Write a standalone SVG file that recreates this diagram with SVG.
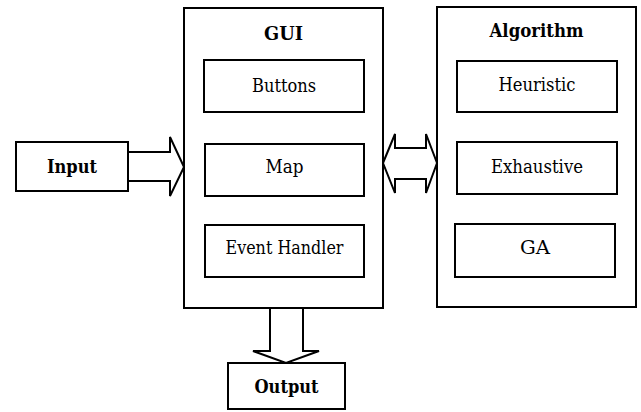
<svg xmlns="http://www.w3.org/2000/svg" width="641" height="412" viewBox="0 0 641 412">
<style>
rect{fill:#fff;stroke:#000;stroke-width:2}
.a{fill:#fff;stroke:#000;stroke-width:2;stroke-linejoin:miter}
text{font-family:'DejaVu Serif','Liberation Serif',serif;font-size:18.5px;text-anchor:middle;fill:#000}
.b{font-weight:bold}
</style>
<rect x="0" y="0" width="641" height="412" style="stroke:none"/>
<g id="gui">
<rect x="184" y="8" width="199" height="300"/>
<text class="b" x="283.5" y="40" textLength="39" lengthAdjust="spacingAndGlyphs">GUI</text>
</g>
<g id="buttons"><rect x="204" y="60" width="160" height="52"/><text x="284" y="92" textLength="64" lengthAdjust="spacingAndGlyphs">Buttons</text></g>
<g id="map"><rect x="205" y="144" width="159" height="52"/><text x="284.5" y="173" textLength="38" lengthAdjust="spacingAndGlyphs">Map</text></g>
<g id="event-handler"><rect x="205" y="225" width="159" height="52"/><text x="284.5" y="254" textLength="118" lengthAdjust="spacingAndGlyphs">Event Handler</text></g>
<g id="algorithm">
<rect x="437" y="7" width="199" height="300"/>
<text class="b" x="536.5" y="37" textLength="94" lengthAdjust="spacingAndGlyphs">Algorithm</text>
</g>
<g id="heuristic"><rect x="457" y="61" width="160" height="51"/><text x="537" y="91" textLength="77" lengthAdjust="spacingAndGlyphs">Heuristic</text></g>
<g id="exhaustive"><rect x="457" y="142" width="160" height="52"/><text x="537" y="173" textLength="92" lengthAdjust="spacingAndGlyphs">Exhaustive</text></g>
<g id="ga"><rect x="455" y="224" width="160" height="53"/><text x="535" y="254" textLength="30" lengthAdjust="spacingAndGlyphs">GA</text></g>
<g id="input"><rect x="16" y="142" width="112" height="49"/><text class="b" x="72" y="173" textLength="50" lengthAdjust="spacingAndGlyphs">Input</text></g>
<g id="output"><rect x="228" y="363" width="117" height="46"/><text class="b" x="286.5" y="393" textLength="64" lengthAdjust="spacingAndGlyphs">Output</text></g>
<g id="connectors">
<polygon class="a" points="128,152 170,152 170,137 184,167 170,196 170,181 128,181"/>
<polygon class="a" points="383,163 395,134 395,148 426,148 426,134 437,163 426,193 426,179 395,179 395,193"/>
<polygon class="a" points="270,308 303,308 303,351 319,351 286,363 253,351 270,351"/>
</g>
</svg>
